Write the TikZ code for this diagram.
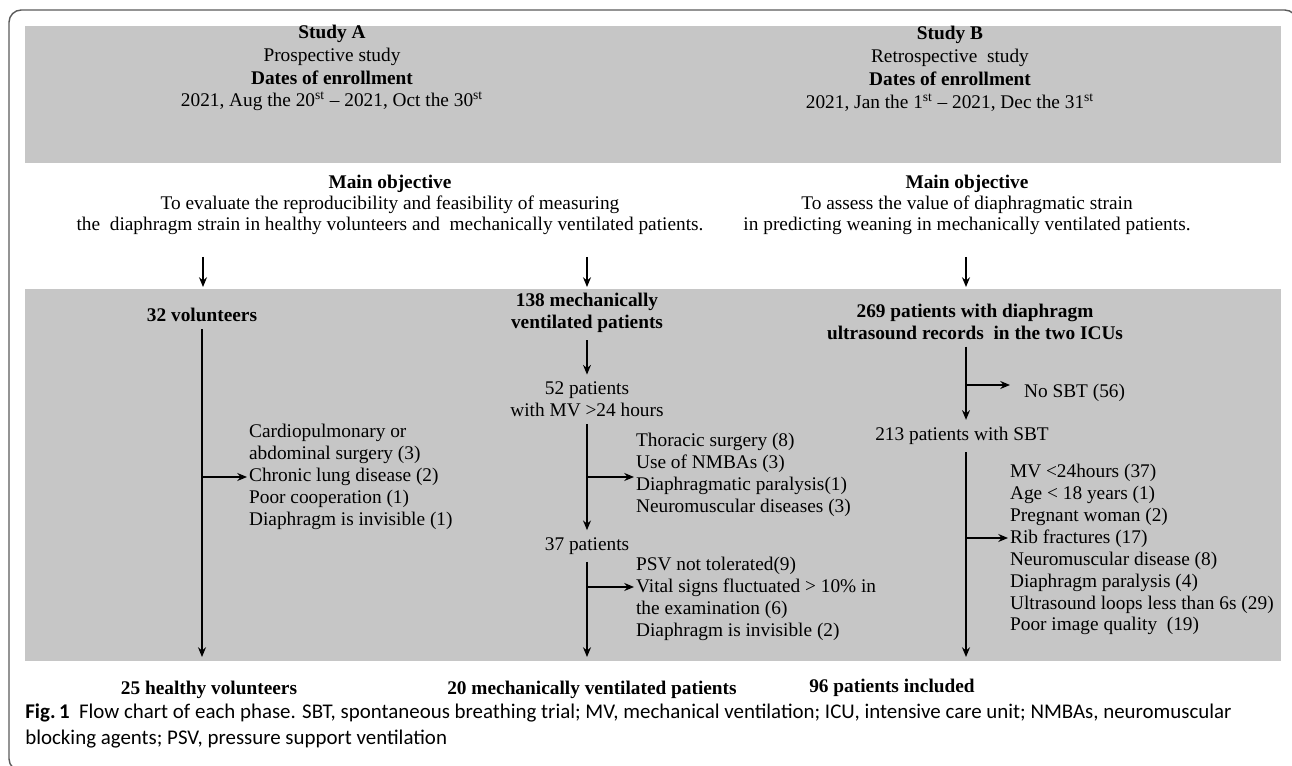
\documentclass[tikz,border=0pt]{standalone}
\usepackage{fontspec}
\setmainfont{Liberation Serif}
\newfontfamily\capfont{Carlito}
\usepackage{tikz}
\usetikzlibrary{arrows.meta,positioning,calc}
\definecolor{bandgray}{HTML}{C6C6C6}
\definecolor{framegray}{HTML}{5A5A5A}

\begin{document}
\begin{tikzpicture}[
  x=0.02cm, y=-0.02cm,
  txt/.style={align=center, font=\fontsize{11}{12}\selectfont, inner sep=0pt},
  head/.style={align=center, font=\fontsize{11}{12.5}\selectfont\bfseries, inner sep=4pt},
  flow/.style={align=center, font=\fontsize{11}{12.5}\selectfont, inner sep=4pt},
  excl/.style={align=left, anchor=west, font=\fontsize{11}{12.5}\selectfont, inner sep=1pt},
  arrow/.style={-{Stealth[length=5.5pt,width=4.5pt]}, line width=1pt},
  band/.style={fill=bandgray, draw=none}
]
\useasboundingbox (0,0) rectangle (1292,766);
\begin{scope}
\clip (0,0) rectangle (1292,766);
\draw[framegray, line width=0.8pt, rounded corners=7pt] (9,10) rectangle (1297,771);
\end{scope}

% grey bands
\fill[band] (25,26) rectangle (1281,163);
\fill[band] (25,289) rectangle (1281,661);

% study headers
\node[txt, font=\fontsize{11}{13}\selectfont] (studyA) at (332,68) {\textbf{Study A}\\Prospective study\\\textbf{Dates of enrollment}\\
  2021, Aug the 20\textsuperscript{st} -- 2021, Oct the 30\textsuperscript{st}};
\node[txt, font=\fontsize{11}{13}\selectfont] (studyB) at (950,69) {\textbf{Study B}\\Retrospective\ \ study\\\textbf{Dates of enrollment}\\
  2021, Jan the 1\textsuperscript{st} -- 2021, Dec the 31\textsuperscript{st}};

% objectives
\node[txt] (objA) at (390,205) {\textbf{Main objective}\\To evaluate the reproducibility and feasibility of measuring\\
  the\ \ diaphragm strain in healthy volunteers and\ \ mechanically ventilated patients.};
\node[txt] (objB) at (967,205) {\textbf{Main objective}\\To assess the value of diaphragmatic strain\\
  in predicting weaning in mechanically ventilated patients.};

\coordinate (inA1) at (203,257);
\coordinate (inA2) at (587,257);
\coordinate (inB) at (966,257);

% study A, volunteers
\node[head] (vol) at (202,315) {32 volunteers};
\node[excl] (exVol) at (247,477) {Cardiopulmonary or\\abdominal surgery (3)\\Chronic lung disease (2)\\
  Poor cooperation (1)\\Diaphragm is invisible (1)};
\node[head] (outVol) at (209,690) {25 healthy volunteers};

% study A, patients
\node[head] (mv) at (587,313) {138 mechanically\\ventilated patients};
\node[flow] (mv52) at (587,399.5) {52 patients\\with MV >24 hours};
\node[excl] (exMv1) at (634,475) {Thoracic surgery (8)\\Use of NMBAs (3)\\Diaphragmatic paralysis(1)\\
  Neuromuscular diseases (3)};
\node[flow] (mv37) at (587,546) {37 patients};
\node[excl] (exMv2) at (634,598.5) {PSV not tolerated(9)\\Vital signs fluctuated > 10\% in\\
  the examination (6)\\Diaphragm is invisible (2)};
\node[head] (outMv) at (592,690) {20 mechanically ventilated patients};

% study B
\node[head] (us) at (975,321.5) {269 patients with diaphragm\\ultrasound records\ \ in the two ICUs};
\node[excl] (noSbt) at (1022,393) {No SBT (56)};
\node[flow] (sbt) at (962,436) {213 patients with SBT};
\node[excl] (exSbt) at (1008,549.5) {MV <24hours (37)\\Age < 18 years (1)\\Pregnant woman (2)\\
  Rib fractures (17)\\Neuromuscular disease (8)\\Diaphragm paralysis (4)\\
  Ultrasound loops less than 6s (29)\\Poor image quality\ \ (19)};
\node[head] (outSbt) at (892,688) {96 patients included};

% arrow ends and branch points
\coordinate (endVol) at (202,657);
\coordinate (endMv) at (587,657);
\coordinate (endSbt) at (966,657);
\coordinate (brVol) at (202,477);
\coordinate (brMv1) at (587,477);
\coordinate (brMv2) at (587,587);
\coordinate (brUs) at (966,385);
\coordinate (brSbt) at (966,538);

\foreach \a in {inA1, inA2, inB}
  \draw[arrow] (\a) -- (\a |- 0,287);
\foreach \a/\b in {vol/endVol, mv/mv52, mv52/mv37, mv37/endMv}
  \draw[arrow] (\a) -- (\b);
\draw[arrow] (us.south -| brUs) -- (sbt.north -| brUs);
\draw[arrow] (sbt.south -| brUs) -- (endSbt);
\foreach \a/\b in {brVol/exVol, brMv1/exMv1, brMv2/exMv2, brSbt/exSbt}
  \draw[arrow] (\a) -- (\a -| \b.west);
\draw[arrow] (brUs) -- ++(44,0) coordinate (noSbtTip);

% caption
\node[anchor=north west, align=left, inner sep=0pt, font=\capfont\fontsize{11.9}{15.3}\selectfont] (cap) at (25,703)
  {\textbf{Fig.\,1}\ \ Flow chart of each phase. SBT, spontaneous breathing trial; MV, mechanical ventilation; ICU, intensive care unit; NMBAs, neuromuscular\\
  blocking agents; PSV, pressure support ventilation};
\end{tikzpicture}
\end{document}
